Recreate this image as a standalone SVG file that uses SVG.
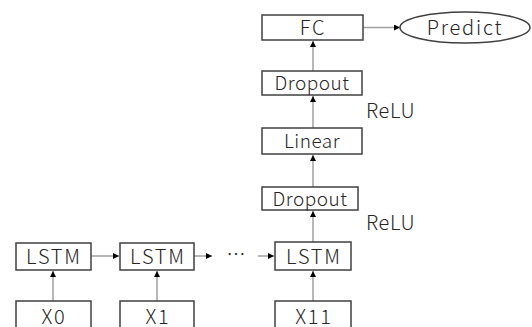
<svg xmlns="http://www.w3.org/2000/svg" width="532" height="327" viewBox="0 0 532 327">
<defs>
<style>
.box{fill:#fff;stroke:#404040;stroke-width:1.5}
.t{font-family:"Noto Sans CJK JP","Noto Sans",sans-serif;font-weight:300;font-size:19px;letter-spacing:0.5px;fill:#262626;text-anchor:middle}
.w{font-size:20px;letter-spacing:1.8px}
.lbl{font-family:"Noto Sans CJK JP","Noto Sans",sans-serif;font-weight:300;font-size:20px;letter-spacing:0.6px;fill:#262626}
.ln{stroke:#a0a0a0;stroke-width:1.5;fill:none;marker-end:url(#ah)}
</style>
<marker id="ah" viewBox="0 0 10 10" refX="10" refY="5" markerWidth="6" markerHeight="6" markerUnits="userSpaceOnUse" orient="auto">
<path d="M0,0 L10,5 L0,10 z" fill="#000"/>
</marker>
</defs>
<rect width="532" height="327" fill="#fff"/>
<g id="connectors">
<line class="ln" x1="53" y1="301" x2="53" y2="271"/>
<line class="ln" x1="157" y1="301" x2="157" y2="271"/>
<line class="ln" x1="313" y1="301" x2="313" y2="271"/>
<line class="ln" x1="91" y1="256" x2="119" y2="256"/>
<line class="ln" x1="194" y1="256" x2="212" y2="256"/>
<line class="ln" x1="258" y1="256" x2="274" y2="256"/>
<line class="ln" x1="313" y1="242" x2="313" y2="211"/>
<line class="ln" x1="313" y1="187" x2="313" y2="155"/>
<line class="ln" x1="313" y1="128" x2="313" y2="96"/>
<line class="ln" x1="313" y1="71" x2="313" y2="41"/>
<line class="ln" x1="363" y1="27.5" x2="400" y2="27.5"/>
</g>
<g id="fc"><rect class="box" x="262" y="15" width="101" height="25"/><text class="t w" x="313" y="34.5">FC</text></g>
<g id="predict"><ellipse cx="465" cy="27.5" rx="65" ry="15.5" fill="#fff" stroke="#404040" stroke-width="1.5"/><text class="t w" x="465" y="34.5">Predict</text></g>
<g id="dropout1"><rect class="box" x="262" y="71" width="100" height="24"/><text class="t" x="312" y="90">Dropout</text></g>
<g id="relu1"><text class="lbl" x="366" y="118">ReLU</text></g>
<g id="linear"><rect class="box" x="262" y="128" width="100" height="26"/><text class="t" x="312" y="148">Linear</text></g>
<g id="dropout2"><rect class="box" x="262" y="187" width="96" height="23"/><text class="t" x="310" y="205.5">Dropout</text></g>
<g id="relu2"><text class="lbl" x="366" y="230">ReLU</text></g>
<g id="lstm1"><rect class="box" x="16" y="243" width="75" height="27"/><text class="t w" x="54" y="264">LSTM</text></g>
<g id="lstm2"><rect class="box" x="120" y="243" width="74" height="27"/><text class="t w" x="158" y="264">LSTM</text></g>
<g id="dots"><text class="t" x="236" y="262" style="letter-spacing:0">⋯</text></g>
<g id="lstm3"><rect class="box" x="275" y="242" width="76" height="28"/><text class="t w" x="314" y="263.5">LSTM</text></g>
<g id="x0"><rect class="box" x="16" y="301" width="75" height="35"/><text class="t w" x="54" y="323.5">X0</text></g>
<g id="x1"><rect class="box" x="120" y="301" width="74" height="35"/><text class="t w" x="158" y="323.5">X1</text></g>
<g id="x11"><rect class="box" x="275" y="301" width="76" height="35"/><text class="t w" x="314" y="323.5">X11</text></g>
</svg>
